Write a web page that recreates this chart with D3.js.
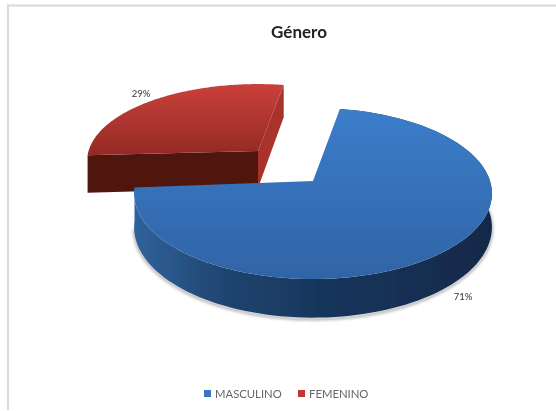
<!DOCTYPE html>
<html><head><meta charset="utf-8">
<script src="https://cdn.jsdelivr.net/npm/d3@7"></script>
<style>html,body{margin:0;padding:0;background:#fff}svg{display:block}</style>
</head><body><svg id="c" width="556" height="411"></svg>
<script>
const categories = ["MASCULINO", "FEMENINO"];
const values = [71, 29];
const labels = ["71%", "29%"];
const title = "Género";

const svg = d3.select("#c");
const defs = svg.append("defs");
defs.append("filter").attr("id","soft").attr("x","-5%").attr("y","-5%").attr("width","110%").attr("height","110%")
  .append("feGaussianBlur").attr("stdDeviation",0.6);
defs.append("filter").attr("id","shadow").attr("x","-10%").attr("y","-10%").attr("width","120%").attr("height","120%")
  .append("feGaussianBlur").attr("stdDeviation",1.6);
function grad(id,x1,y1,x2,y2,stops){
  const g=defs.append("linearGradient").attr("id",id).attr("gradientUnits","userSpaceOnUse")
    .attr("x1",x1).attr("y1",y1).attr("x2",x2).attr("y2",y2);
  stops.forEach(s=>g.append("stop").attr("offset",s[0]).attr("stop-color",s[1]));
}
grad("blueTop",0,108,0,280,[[0,"#3c7dcb"],[1,"#2f64a6"]]);
grad("blueSide",135,0,492,0,[[0,"#30629b"],[0.25,"#1f4570"],[0.55,"#17345a"],[1,"#11294a"]]);
grad("redTop",0,85,0,152,[[0,"#c9403a"],[1,"#962b26"]]);

const root = svg.append("g").attr("filter","url(#soft)");
root.append("path").attr("d","M8,410V5.5H556").attr("fill","none").attr("stroke","#d9d9d9").attr("stroke-width",2);

const rotation = 10*Math.PI/180;
const pie = d3.pie().sort(null).startAngle(rotation).endAngle(rotation+2*Math.PI)(values);
const k = 0.146;
const geom = [
  {ox:313, oy:181, ay:181, A:177, R:83.7, D:33, top:"url(#blueTop)"},
  {ox:258, oy:149.5, ay:151, A:169, R:75, D:37, top:"url(#redTop)"}
];
function proj(g,theta,depth){
  const u=Math.sin(theta), v=-Math.cos(theta), s=1/(1-k*v);
  return [g.ox+g.A*u*s, g.oy+(g.R*v+(depth?g.D:0))*s];
}
function arcPts(g,a0,a1,depth){
  return d3.range(0,121).map(i=>proj(g,a0+(a1-a0)*i/120,depth));
}
const line=d3.line();
function poly(p,fill,parent){return (parent||root).append("path").attr("d",line(p)+"Z").attr("fill",fill);}

// red slice (drawn first, lies behind)
{
  const g=geom[1], a=pie[1];
  const apex=[g.ox,g.ay], apexB=[g.ox,g.ay+g.D];
  const pS=proj(g,a.startAngle,false), pSb=proj(g,a.startAngle,true);
  const pE=proj(g,a.endAngle,false), pEb=proj(g,a.endAngle,true);
  poly([apex,pE,pEb,apexB],"#a9322c");
  poly([apex,pS,pSb,apexB],"#4f1611");
  poly([apex].concat(arcPts(g,a.startAngle,a.endAngle,false)),g.top);
}
// blue slice
{
  const g=geom[0], a=pie[0];
  const band=arcPts(g,a.startAngle,a.endAngle,false).concat(arcPts(g,a.endAngle,a.startAngle,true));
  const low=arcPts(g,Math.PI*0.42,Math.PI*1.45,true).map(p=>[p[0],p[1]+1.5]);
  root.append("path").attr("d",line(low)).attr("fill","none").attr("stroke","#9a9a9a")
    .attr("stroke-width",2).attr("filter","url(#shadow)");
  poly(band,"url(#blueSide)");
  poly([[g.ox,g.ay]].concat(arcPts(g,a.startAngle,a.endAngle,false)),g.top);
}
const font="Lato, 'Open Sans', sans-serif";
root.append("text").attr("x",299).attr("y",38).attr("text-anchor","middle")
  .attr("font-family",font).attr("font-weight",700).attr("font-size",17).attr("fill","#222").text(title);
const labelPos=[[463,300],[141,97]];
root.selectAll("text.lab").data(labels).join("text").attr("class","lab")
  .attr("x",(d,i)=>labelPos[i][0]).attr("y",(d,i)=>labelPos[i][1]).attr("text-anchor","middle")
  .attr("font-family",font).attr("font-size",9.5).attr("fill","#333").text(d=>d);
const color=d3.scaleOrdinal().domain(categories).range(["#3a75bd","#c23531"]);
const legX=[204,298];
const leg=root.selectAll("g.leg").data(categories).join("g").attr("class","leg")
  .attr("transform",(d,i)=>`translate(${legX[i]},390)`);
leg.append("rect").attr("width",7).attr("height",7).attr("fill",d=>color(d));
leg.append("text").attr("x",11).attr("y",8).attr("font-family",font).attr("font-size",11.3).attr("fill","#666").text(d=>d);
</script></body></html>
